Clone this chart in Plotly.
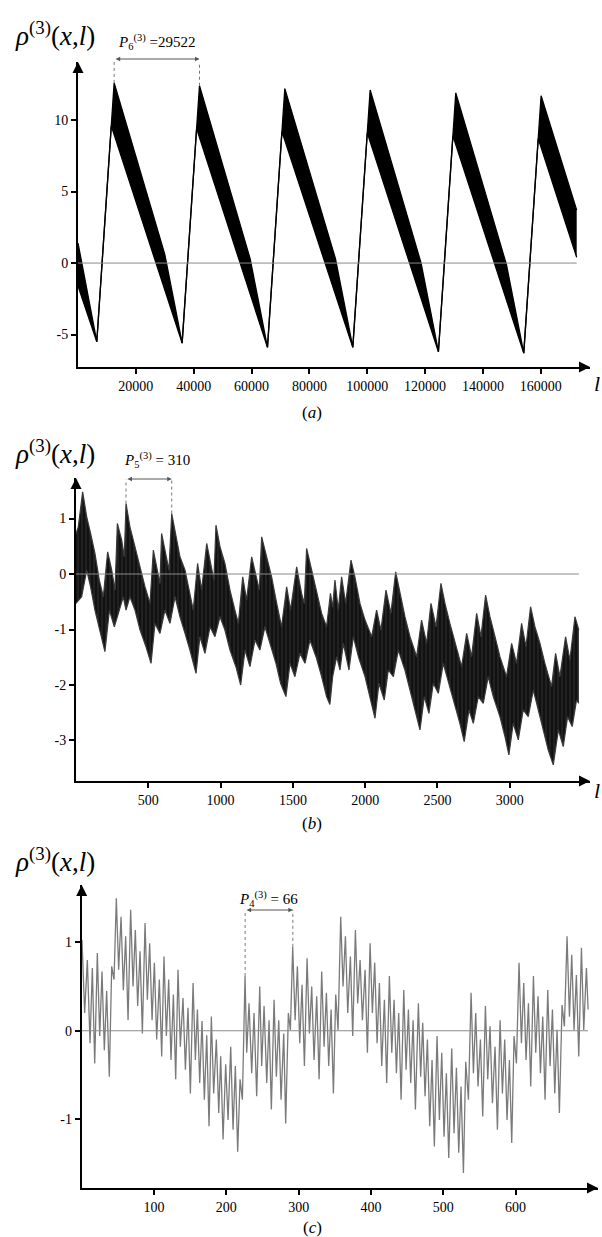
import plotly.graph_objects as go

SERIF = "Liberation Serif, Times New Roman, serif"
W, H = 602, 1237

# ---------- panel (a): sawtooth band, period P6 = 29522 ----------
a_up_l = [0, 2500, 4500, 6500,
          12500, 30000, 33500, 36000,
          42000, 59500, 63000, 65500,
          71500, 89000, 92500, 95000,
          101000, 118600, 122100, 124600,
          130600, 148100, 151600, 154100,
          160100, 172400]
a_up_rho = [1.4, -1.2, -3.5, -5.5,
            12.6, 0.6, -3.0, -5.6,
            12.4, 0.3, -3.3, -5.9,
            12.2, 0.3, -3.3, -5.9,
            12.1, 0.0, -3.6, -6.2,
            11.9, -0.1, -3.7, -6.3,
            11.7, 3.7]
a_lo_l = [0, 6500, 11500, 36000, 41000, 65500, 70500, 95000, 100000, 124600, 129600,
          154100, 159100, 172400]
a_lo_rho = [-1.6, -5.5, 9.6, -5.6, 9.4, -5.9, 9.2, -5.9, 9.1, -6.2, 8.9, -6.3, 8.7, 0.4]
a_xticks = [20000, 40000, 60000, 80000, 100000, 120000, 140000, 160000]
a_yticks = [-5, 0, 5, 10]
a_marks = [12500, 42000]
a_mark_rho = [12.6, 12.4]

# ---------- panel (b): dense band, period P5 = 310 ----------
b_up_l = [0, 16, 46, 74, 101, 131, 161, 189, 219, 247, 270, 286, 316, 334, 346, 373, 408, 443,
          477, 512, 535, 562, 581, 592, 622, 643, 662, 692, 719, 754, 784, 811, 841, 869, 904,
          938, 954, 968, 996, 1030, 1065, 1099, 1123, 1153, 1180, 1215, 1249, 1268, 1284, 1318,
          1353, 1388, 1422, 1457, 1484, 1526, 1560, 1579, 1595, 1630, 1664, 1699, 1733, 1760,
          1775, 1791, 1814, 1837, 1865, 1902, 1929, 1964, 1999, 2045, 2079, 2109, 2144, 2178,
          2211, 2241, 2275, 2310, 2356, 2390, 2425, 2455, 2490, 2524, 2552, 2586, 2621, 2667,
          2702, 2736, 2771, 2801, 2833, 2863, 2898, 2932, 2978, 3013, 3047, 3082, 3112, 3144,
          3174, 3209, 3243, 3289, 3317, 3347, 3386, 3416, 3451, 3478]
b_up_rho = [0.73, 0.85, 1.48, 1.03, 0.73, 0.37, -0.11, -0.41, 0.40, 0.07, -0.29, 0.91, 0.61,
            0.31, 1.27, 0.85, 0.49, 0.13, -0.23, -0.53, 0.43, 0.07, -0.17, 0.73, 0.37, 0.07,
            1.09, 0.67, 0.31, 0.07, -0.29, -0.65, 0.19, -0.29, 0.55, 0.07, -0.11, 0.88, 0.49,
            0.19, -0.29, -0.65, -0.89, -0.05, -0.47, 0.31, -0.11, -0.29, 0.67, 0.31, -0.05,
            -0.53, -0.95, -0.23, -0.65, 0.13, -0.35, -0.53, 0.46, 0.07, -0.29, -0.71, -0.95,
            -0.35, -0.6, -0.11, -0.65, -0.05, -0.53, 0.25, -0.05, -0.53, -0.83, -1.13, -0.65,
            -1.01, -0.29, -0.71, 0.04, -0.35, -0.77, -1.13, -1.49, -0.83, -1.25, -0.53, -0.95,
            -0.17, -0.53, -0.89, -1.25, -1.67, -1.07, -1.49, -0.71, -1.13, -0.38, -0.77, -1.13,
            -1.49, -1.85, -1.25, -1.61, -0.89, -1.31, -0.59, -0.95, -1.25, -1.61, -2.03, -1.43,
            -1.85, -1.13, -1.55, -0.77, -1.01]
b_lo_l = [0, 39, 74, 101, 131, 166, 200, 231, 265, 293, 327, 346, 373, 408, 443, 484, 519, 546,
          581, 615, 650, 685, 719, 754, 788, 830, 857, 892, 927, 961, 996, 1030, 1065, 1106,
          1139, 1169, 1203, 1238, 1272, 1307, 1342, 1383, 1415, 1452, 1480, 1514, 1549, 1584,
          1618, 1660, 1699, 1733, 1756, 1775, 1803, 1826, 1849, 1888, 1918, 1953, 1999, 2033,
          2068, 2095, 2132, 2160, 2195, 2229, 2275, 2310, 2344, 2379, 2409, 2441, 2471, 2506,
          2540, 2579, 2621, 2655, 2685, 2718, 2748, 2782, 2817, 2851, 2886, 2932, 2967, 2994,
          3024, 3059, 3093, 3128, 3163, 3197, 3232, 3266, 3301, 3336, 3370, 3400, 3432, 3462,
          3478]
b_lo_rho = [-0.53, -0.41, 0.07, -0.23, -0.65, -1.01, -1.40, -0.65, -0.95, -0.71, -0.41, -0.65,
            -0.41, -0.65, -1.01, -1.31, -1.61, -0.89, -1.07, -0.65, -0.89, -0.41, -0.77, -1.07,
            -1.37, -1.79, -1.13, -1.43, -0.95, -1.13, -0.77, -1.01, -1.37, -1.67, -2.00, -1.37,
            -1.67, -1.19, -1.37, -0.95, -1.25, -1.61, -1.97, -2.21, -1.61, -1.85, -1.43, -1.61,
            -1.19, -1.49, -1.85, -2.21, -2.35, -1.85, -1.49, -1.73, -1.25, -1.73, -1.13, -1.49,
            -1.85, -2.21, -2.60, -1.97, -2.27, -1.73, -1.85, -1.37, -1.73, -2.09, -2.45, -2.81,
            -2.21, -2.51, -1.97, -2.15, -1.61, -1.97, -2.33, -2.69, -3.02, -2.45, -2.69, -2.21,
            -2.33, -1.85, -2.21, -2.57, -2.93, -3.26, -2.69, -2.99, -2.45, -2.57, -2.09, -2.45,
            -2.81, -3.17, -3.44, -2.81, -3.11, -2.57, -2.75, -2.27, -2.33]
b_xticks = [500, 1000, 1500, 2000, 2500, 3000]
b_yticks = [-3, -2, -1, 0, 1]
b_marks = [346, 662]
b_mark_rho = [1.27, 1.09]

# ---------- panel (c): single series, period P4 = 66 ----------
c_l = [0.4, 4.1, 7.8, 11.5, 14.7, 18.0, 21.6, 24.9, 28.1, 31.3,
       34.5, 38.2, 41.5, 44.7, 47.9, 51.1, 54.4, 57.6, 60.8, 64.1,
       67.7, 71.0, 74.2, 77.4, 80.7, 83.9, 87.6, 90.8, 94.0, 97.3,
       100.5, 103.7, 107.4, 110.6, 113.8, 117.1, 120.3, 123.5, 126.8, 130.0,
       133.2, 136.4, 140.1, 143.4, 147.0, 150.3, 154.0, 157.2, 160.0, 163.2,
       166.4, 169.6, 172.9, 176.1, 179.3, 182.5, 186.2, 189.5, 192.2, 195.5,
       199.1, 202.4, 206.1, 209.3, 212.5, 215.7, 219.0, 222.2,
       225.9, 228.2, 231.4, 235.1, 238.3, 242.0, 246.2, 248.9, 252.2, 255.9,
       259.1, 262.3, 266.0, 269.2, 272.5, 275.7, 279.4, 282.1, 285.8, 288.6,
       291.8, 295.1, 298.3, 301.5, 304.7, 308.0, 311.7, 314.9, 318.1, 321.3,
       325.0, 328.3, 331.9, 335.2, 338.4, 341.6, 344.9, 348.1, 351.3, 354.5,
       358.2, 361.4, 364.7, 367.9, 371.6, 374.8, 378.5, 381.7, 385.0, 388.2,
       391.9, 395.1, 398.8, 402.0, 405.2, 408.5, 411.7, 414.9, 418.6, 421.8,
       425.5, 428.8, 432.0, 435.2, 438.4, 441.7, 445.4, 448.6, 451.8, 455.0,
       458.3, 461.5,
       465.6, 468.8, 471.6, 474.8, 478.1, 481.3, 484.5, 487.7, 491.4, 494.7,
       497.9, 501.1, 504.3, 507.6, 511.7, 514.9, 518.2, 521.4, 524.6, 527.9,
       531.1, 534.8, 538.5, 541.7, 544.9, 548.1, 551.4, 554.6, 558.3, 561.5,
       564.7, 568.0, 571.6, 574.9, 578.6, 581.8, 585.0, 588.2, 591.5, 594.7,
       597.9, 601.2, 604.8, 608.1, 611.3, 614.5, 617.8, 621.0, 624.7, 627.9,
       631.1, 634.4, 637.6, 640.8, 644.5, 647.7, 651.0, 654.2, 657.4, 660.6,
       664.3, 667.5, 671.2, 674.5, 677.7, 680.9, 684.1, 687.4, 691.1, 694.3,
       698.0, 700.3]
c_rho = [1.03, 0.20, 0.80, -0.14, 0.71, -0.37, 0.88, -0.06, 0.67, -0.22,
         0.45, -0.52, 0.73, 0.58, 1.50, 0.69, 1.29, 0.46, 1.07, 0.12,
         1.37, 0.50, 1.14, 0.28, 0.90, -0.03, 1.22, 0.35, 0.99, 0.12,
         0.77, -0.10, 0.58, -0.29, 0.84, -0.06, 0.58, -0.33, 0.41, -0.55,
         0.69, -0.18, 0.37, -0.44, 0.26, -0.71, 0.54, -0.33, 0.24, -0.59,
         0.11, -0.78, -0.05, -1.08, 0.16, -0.71, -0.10, -0.93, -0.29, -1.23,
         -0.38, -1.01, -0.18, -1.12, -0.40, -1.37, -0.55, -0.78,
         0.62, -0.25, 0.31, -0.48, 0.20, -0.74, 0.50, -0.40, 0.28, -0.59,
         0.12, -0.89, 0.35, -0.52, 0.12, -0.78, -0.03, -1.05, 0.20, 0.01,
         0.95, 0.12, 0.73, -0.14, 0.52, -0.40, 0.82, -0.03, 0.50, -0.33,
         0.39, -0.55, 0.67, -0.18, 0.43, -0.40, 0.24, -0.71, 0.41, 0.01,
         1.29, 0.50, 1.07, 0.20, 0.84, -0.06, 1.14, 0.31, 0.80, 0.12,
         0.69, -0.25, 0.99, 0.20, 0.77, -0.14, 0.54, -0.40, 0.35, -0.59,
         0.62, -0.25, 0.35, -0.48, 0.20, -0.78, 0.46, -0.44, 0.24, -0.59,
         0.12, -0.89,
         0.31, -0.52, 0.09, -0.74, -0.10, -1.08, -0.33, -1.31, -0.06, -1.01,
         -0.25, -1.20, -0.48, -1.44, -0.20, -1.16, -0.42, -1.38, -0.63, -1.61,
         -0.35, -0.78, 0.43, -0.48, 0.20, -0.63, -0.10, -0.97, 0.28, -0.55,
         0.05, -0.82, -0.18, -1.12, 0.12, -0.71, -0.10, -1.01, -0.33, -1.27,
         -0.06, -0.37, 0.77, -0.14, 0.54, -0.33, 0.31, -0.63, 0.62, -0.25,
         0.39, -0.48, 0.16, -0.78, 0.46, -0.40, 0.24, -0.71, 0.01, -0.93,
         0.29, 0.05, 1.07, 0.16, 0.86, 0.01, 0.63, -0.29, 0.94, 0.01,
         0.71, 0.24]
c_xticks = [100, 200, 300, 400, 500, 600]
c_yticks = [-1, 0, 1]
c_marks = [226, 292]
c_mark_rho = [0.62, 0.95]


def px(x):
    return x / W


def py(y):
    return 1 - y / H


def axis_style(**kw):
    d = dict(showline=True, linecolor="black", linewidth=2, ticks="outside", ticklen=5,
             tickwidth=1.5, tickcolor="black", showgrid=False, zeroline=False,
             ticklabelstandoff=0,
             tickfont=dict(family=SERIF, size=14, color="black"), fixedrange=True)
    d.update(kw)
    return d


def ticks(vals):
    return dict(tickmode="array", tickvals=vals, ticktext=[str(v) for v in vals])


fig = go.Figure()

# (a)
fig.add_trace(go.Scatter(x=a_lo_l, y=a_lo_rho, mode="lines", line=dict(color="black", width=1.3),
                         xaxis="x", yaxis="y", hoverinfo="skip"))
fig.add_trace(go.Scatter(x=a_up_l, y=a_up_rho, mode="lines", line=dict(color="black", width=1.3),
                         fill="tonexty", fillcolor="black", xaxis="x", yaxis="y", hoverinfo="skip"))
# (b)
fig.add_trace(go.Scatter(x=b_lo_l, y=b_lo_rho, mode="lines", line=dict(color="#3a3a3a", width=1.2),
                         xaxis="x2", yaxis="y2", hoverinfo="skip"))
fig.add_trace(go.Scatter(x=b_up_l, y=b_up_rho, mode="lines", line=dict(color="#3a3a3a", width=1.2),
                         fill="tonexty", fillcolor="#111",
                         fillpattern=dict(shape="|", size=4, solidity=0.3, fgcolor="#444", bgcolor="#111"),
                         xaxis="x2", yaxis="y2", hoverinfo="skip"))
# (c)
fig.add_trace(go.Scatter(x=c_l, y=c_rho, mode="lines", line=dict(color="#7a7a7a", width=1.3),
                         xaxis="x3", yaxis="y3", hoverinfo="skip"))

shapes = []
annotations = []

panels = [
    dict(xa="x", ya="y", end=a_up_l[-1], marks=a_marks, mrho=a_mark_rho, arr=14.27, arr_y=59,
         txt_y=42, txt_dx=0, ptxt="<i>P</i><sub>6</sub><sup>(3)</sup> =29522", xr=590, yb=367,
         yt=62, x0=78, rho_y=34, cap="(<i>a</i>)", cap_y=412, l_y=383),
    dict(xa="x2", ya="y2", end=b_up_l[-1], marks=b_marks, mrho=b_mark_rho, arr=1.71, arr_y=479,
         txt_y=460, txt_dx=8, ptxt="<i>P</i><sub>5</sub><sup>(3)</sup> = 310", xr=590, yb=781,
         yt=478, x0=76, rho_y=452, cap="(<i>b</i>)", cap_y=823, l_y=790),
    dict(xa="x3", ya="y3", end=c_l[-1], marks=c_marks, mrho=c_mark_rho, arr=1.37, arr_y=910,
         txt_y=899, txt_dx=0, ptxt="<i>P</i><sub>4</sub><sup>(3)</sup> = 66", xr=598, yb=1188,
         yt=885, x0=81.7, rho_y=860, cap="(<i>c</i>)", cap_y=1227, l_y=None),
]

for p in panels:
    # zero reference line
    shapes.append(dict(type="line", xref=p["xa"], yref=p["ya"], x0=0, x1=p["end"], y0=0, y1=0,
                       line=dict(color="#8a8a8a", width=1)))
    # dotted period markers
    for m, r in zip(p["marks"], p["mrho"]):
        shapes.append(dict(type="line", xref=p["xa"], yref=p["ya"], x0=m, x1=m, y0=r, y1=p["arr"],
                           line=dict(color="#777", width=1, dash="dot")))
    annotations.append(dict(xref=p["xa"], yref="paper", axref=p["xa"], ayref="pixel",
                            x=p["marks"][1], y=py(p["arr_y"]), ax=p["marks"][0], ay=0, text="",
                            showarrow=True, arrowside="end+start", arrowhead=2, arrowsize=0.9,
                            arrowwidth=1, arrowcolor="#555"))
    annotations.append(dict(xref=p["xa"], yref="paper", x=sum(p["marks"]) / 2, y=py(p["txt_y"]),
                            xshift=p["txt_dx"], xanchor="center", yanchor="middle",
                            text=p["ptxt"], showarrow=False,
                            font=dict(family=SERIF, size=15, color="black")))
    # axis arrowheads
    annotations.append(dict(xref="paper", yref="paper", x=px(p["xr"]), y=py(p["yb"]), ax=-12, ay=0,
                            text="", showarrow=True, arrowhead=2, arrowsize=1.1, arrowwidth=2,
                            arrowcolor="black"))
    annotations.append(dict(xref="paper", yref="paper", x=px(p["x0"]), y=py(p["yt"]), ax=0, ay=12,
                            text="", showarrow=True, arrowhead=2, arrowsize=1.1, arrowwidth=2,
                            arrowcolor="black"))
    # axis titles / captions
    annotations.append(dict(xref="paper", yref="paper", x=px(55), y=py(p["rho_y"]),
                            xanchor="center", yanchor="middle",
                            text="<i>ρ</i><sup>(3)</sup>(<i>x</i>,<i>l</i>)", showarrow=False,
                            font=dict(family=SERIF, size=27, color="black")))
    annotations.append(dict(xref="paper", yref="paper", x=px(312), y=py(p["cap_y"]), text=p["cap"],
                            xanchor="center", yanchor="middle",
                            showarrow=False, font=dict(family=SERIF, size=17, color="black")))
    if p["l_y"] is not None:
        annotations.append(dict(xref="paper", yref="paper", x=px(597), y=py(p["l_y"]),
                                xanchor="center", yanchor="middle",
                                text="<i>l</i>", showarrow=False,
                                font=dict(family=SERIF, size=22, color="black")))

fig.update_layout(
    width=W, height=H,
    margin=dict(l=0, r=0, t=0, b=0),
    paper_bgcolor="white", plot_bgcolor="white",
    showlegend=False,
    xaxis=axis_style(domain=[px(78), px(590)], range=[0, 177000], anchor="y", **ticks(a_xticks)),
    yaxis=axis_style(domain=[py(367), py(62)], range=[-7.27, 14.06], anchor="x", **ticks(a_yticks)),
    xaxis2=axis_style(domain=[px(76), px(590)], range=[0, 3555], anchor="y2", **ticks(b_xticks)),
    yaxis2=axis_style(domain=[py(781), py(478)], range=[-3.73, 1.73], anchor="x2", **ticks(b_yticks)),
    xaxis3=axis_style(domain=[px(81.7), px(598)], range=[0, 714], anchor="y3", **ticks(c_xticks)),
    yaxis3=axis_style(domain=[py(1188), py(885)], range=[-1.78, 1.65], anchor="x3", **ticks(c_yticks)),
    shapes=shapes,
    annotations=annotations,
)

fig.write_html("out.html", config={"displayModeBar": False},
               post_script="document.body.style.margin='0';document.body.style.overflow='hidden';")
